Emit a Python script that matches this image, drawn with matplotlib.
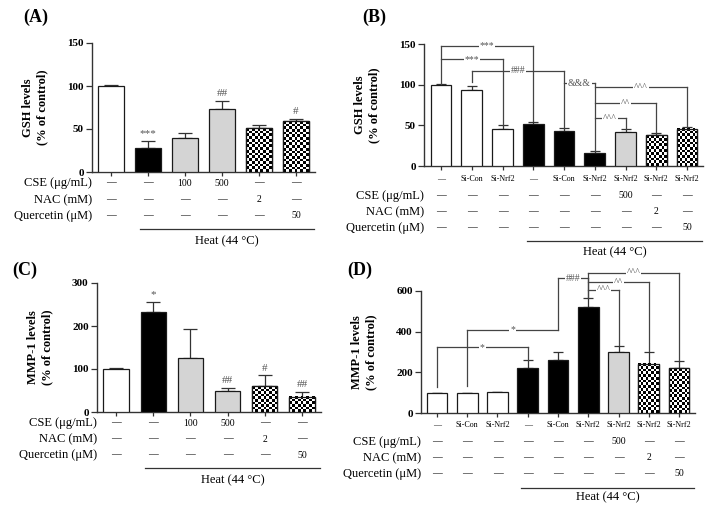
import numpy as np
import matplotlib
matplotlib.use('Agg')
import matplotlib.pyplot as plt

plt.rcParams['font.family'] = ['Liberation Serif', 'DejaVu Serif']

# ---- data ----
# (A) GSH, heat + treatments
gsh_a = [100, 28, 39, 73, 51, 59]
gsh_a_err = [1.5, 8, 6, 10, 4, 2.5]
gsh_a_sig = ['', '***', '', '##', '', '#']
fill_a = ['white', 'black', 'gray', 'gray', 'check', 'check']
cse_a = ['—', '—', '100', '500', '—', '—']
nac_a = ['—', '—', '—', '—', '2', '—']
quer_a = ['—', '—', '—', '—', '—', '50']

# (B) GSH, siRNA
gsh_b = [100, 94, 45, 51.5, 43, 16, 41.5, 38, 45.5]
gsh_b_err = [1, 4.5, 5, 3, 3.5, 3, 4, 2, 3]
fill_b = ['white', 'white', 'white', 'black', 'black', 'black', 'gray', 'check', 'check']
sirna = ['—', 'Si-Con', 'Si-Nrf2', '—', 'Si-Con', 'Si-Nrf2', 'Si-Nrf2', 'Si-Nrf2', 'Si-Nrf2']
cse_b = ['—', '—', '—', '—', '—', '—', '500', '—', '—']
nac_b = ['—', '—', '—', '—', '—', '—', '—', '2', '—']
quer_b = ['—', '—', '—', '—', '—', '—', '—', '—', '50']
# bracket: bar i, bar j, height, left leg end, right leg end, label
brk_b = [(0, 3, 148, 101, 55, '***'),
         (0, 2, 131, None, 50.5, '***'),
         (1, 4, 117, 103, 46.5, '###'),
         (4, 5, 102, None, 19, '&&&'),
         (5, 8, 97, None, 48.5, '^^^'),
         (5, 7, 77, None, 40, '^^'),
         (5, 6, 59, None, 46, '^^^')]

# (C) MMP-1, heat + treatments
mmp_c = [100, 232, 125, 50, 60, 36]
mmp_c_err = [1.5, 24, 69, 6, 25, 11]
mmp_c_sig = ['', '*', '', '##', '#', '##']
fill_c = fill_a

# (D) MMP-1, siRNA
mmp_d = [100, 100, 103, 220, 259, 522, 298, 240, 220]
mmp_d_err = [1, 1, 1, 40, 43, 40, 33, 62, 38]
fill_d = fill_b
brk_d = [(0, 3, 323, 130, 262, '*'),
         (1, 4, 408, 134, None, '*'),
         (4, 5, 662, 408, 564, '###'),
         (5, 8, 689, 564, 260, '^^^'),
         (5, 7, 641, None, 304, '^^'),
         (5, 6, 604, None, 333, '^^^')]

W, H = 711, 512
fig = plt.figure(figsize=(W / 100, H / 100), dpi=100)

LC = '#333333'
MARK = '#555555'


def make_axes(left, right, top, bottom, nbars, ymax, yticks, ylabel):
    ax = fig.add_axes([left / W, 1 - bottom / H, (right - left) / W, (bottom - top) / H])
    ax.set_ylim(0, ymax)
    ax.set_yticks(yticks)
    ax.set_yticklabels([str(t) for t in yticks], fontweight='bold', fontsize=8)
    ax.set_xticks(np.arange(nbars))
    ax.set_xticklabels([])
    for s in ['top', 'right']:
        ax.spines[s].set_visible(False)
    for s in ['left', 'bottom']:
        ax.spines[s].set_color(LC)
        ax.spines[s].set_linewidth(1)
    ax.tick_params(axis='y', length=4, width=0.9, color=LC, pad=2)
    ax.tick_params(axis='x', length=3, width=0.9, color=LC)
    ax.set_ylabel(ylabel, fontweight='bold', fontsize=9, linespacing=1.2)
    ax.yaxis.set_label_coords(-44 / (right - left), 0.5)
    ax._px = (left, right, top, bottom)
    return ax


def set_xlim(ax, first_px, step_px):
    left, right, top, bottom = ax._px
    ax.set_xlim(-(first_px - left) / step_px, (right - first_px) / step_px)


def checker(ax, b, cell=2.7):
    x0, w, h = b.get_x(), b.get_width(), b.get_height()
    p = ax.transData.transform([[x0, 0], [x0 + w, h]])
    ncol = max(1, int(round((p[1, 0] - p[0, 0]) / cell)))
    nrow = max(1, int(round((p[1, 1] - p[0, 1]) / cell)))
    img = np.add.outer(np.arange(nrow), np.arange(ncol)) % 2
    ax.imshow(img, cmap='gray', extent=(x0, x0 + w, 0, h), aspect='auto',
              interpolation='nearest', zorder=2.8, clip_path=b)


def draw_bars(ax, vals, errs, fills, width, cap):
    xlim, ylim = ax.get_xlim(), ax.get_ylim()
    x = np.arange(len(vals))
    colors = {'white': 'white', 'black': 'black', 'gray': '#d4d4d4', 'check': 'white'}
    for xi, v, f in zip(x, vals, fills):
        b = ax.bar(xi, v, width, color=colors[f], edgecolor='#1a1a1a',
                   linewidth=0.9, zorder=3 if f != 'check' else 2.5)[0]
        if f == 'check':
            checker(ax, b)
            ax.bar(xi, v, width, color='none', edgecolor='#1a1a1a', linewidth=0.9, zorder=3)
    ax.errorbar(x, vals, yerr=[np.zeros(len(errs)), errs], fmt='none', ecolor=LC,
                elinewidth=0.9, capsize=cap, capthick=0.9, zorder=2.7)
    ax.set_xlim(xlim)
    ax.set_ylim(ylim)


def sig_marks(ax, vals, errs, marks):
    for i, (v, e, m) in enumerate(zip(vals, errs, marks)):
        if m:
            ax.annotate(m, (i, v + e), xytext=(0, 2), textcoords='offset points',
                        ha='center', va='bottom', fontsize=8, color=MARK)


def bracket(ax, i, j, y, yl, yr, label):
    kw = dict(color='#444444', lw=0.9, clip_on=False, zorder=4)
    ax.plot([i, j], [y, y], **kw)
    if yl is not None:
        ax.plot([i, i], [yl, y], **kw)
    if yr is not None:
        ax.plot([j, j], [yr, y], **kw)
    ax.text((i + j) / 2, y, label, ha='center', va='center', fontsize=7, color=MARK,
            bbox=dict(fc='white', ec='none', pad=0.6), zorder=5, clip_on=False)


def table(ax, rows, heat_from, line_px, text_px):
    left, right, top, bottom = ax._px
    tr = ax.get_xaxis_transform()

    def yf(px):
        return (bottom - px) / (bottom - top)

    for ypx, label, vals, fs in rows:
        if label:
            ax.text(0, yf(ypx), label, transform=ax.transAxes, ha='right', va='center', fontsize=9)
        for i, v in enumerate(vals):
            ax.text(i, yf(ypx), v, transform=tr, ha='center', va='center', fontsize=fs)
    x1 = ax.get_xlim()[1] - 0.03
    ax.plot([heat_from, x1], [yf(line_px)] * 2, transform=tr, color=LC, lw=0.9, clip_on=False)
    ax.text((heat_from + x1) / 2, yf(text_px), 'Heat (44 °C)', transform=tr,
            ha='center', va='center', fontsize=9)


# ---- (A) ----
axa = make_axes(92, 315, 43, 172, 6, 150, [0, 50, 100, 150], 'GSH levels\n(% of control)')
set_xlim(axa, 111, 37)
draw_bars(axa, gsh_a, gsh_a_err, fill_a, 0.68, 5)
sig_marks(axa, gsh_a, gsh_a_err, gsh_a_sig)
table(axa, [(183, 'CSE (μg/mL)', cse_a, 7), (200, 'NAC (mM)', nac_a, 7),
            (216, 'Quercetin (μM)', quer_a, 7)], 0.78, 229, 241)

# ---- (B) ----
axb = make_axes(424, 703, 44, 166, 9, 150, [0, 50, 100, 150], 'GSH levels\n(% of control)')
set_xlim(axb, 441, 30.75)
draw_bars(axb, gsh_b, gsh_b_err, fill_b, 0.68, 3.5)
for br in brk_b:
    bracket(axb, *br)
table(axb, [(179, '', sirna, 5.8), (196, 'CSE (μg/mL)', cse_b, 7), (212, 'NAC (mM)', nac_b, 7),
            (228, 'Quercetin (μM)', quer_b, 7)], 2.8, 241, 252)

# ---- (C) ----
axc = make_axes(97, 321, 283, 412, 6, 300, [0, 100, 200, 300], 'MMP-1 levels\n(% of control)')
set_xlim(axc, 116, 37.2)
draw_bars(axc, mmp_c, mmp_c_err, fill_c, 0.68, 5)
sig_marks(axc, mmp_c, mmp_c_err, mmp_c_sig)
table(axc, [(423, 'CSE (μg/mL)', cse_a, 7), (439, 'NAC (mM)', nac_a, 7),
            (455, 'Quercetin (μM)', quer_a, 7)], 0.78, 468, 480)

# ---- (D) ----
axd = make_axes(421, 695, 290.7, 413.3, 9, 600, [0, 200, 400, 600], 'MMP-1 levels\n(% of control)')
set_xlim(axd, 437, 30.25)
draw_bars(axd, mmp_d, mmp_d_err, fill_d, 0.68, 3.5)
for br in brk_d:
    bracket(axd, *br)
table(axd, [(425, '', sirna, 5.8), (442, 'CSE (μg/mL)', cse_b, 7), (458, 'NAC (mM)', nac_b, 7),
            (474, 'Quercetin (μM)', quer_b, 7)], 2.78, 488, 497)

# panel letters
for lbl, xp, yp in [('(A)', 23, 17), ('(B)', 362, 17), ('(C)', 12, 270), ('(D)', 347, 270)]:
    fig.text(xp / W, 1 - yp / H, lbl, fontsize=13, fontweight='bold', ha='left', va='center')

fig.savefig('out.png', dpi=100)
